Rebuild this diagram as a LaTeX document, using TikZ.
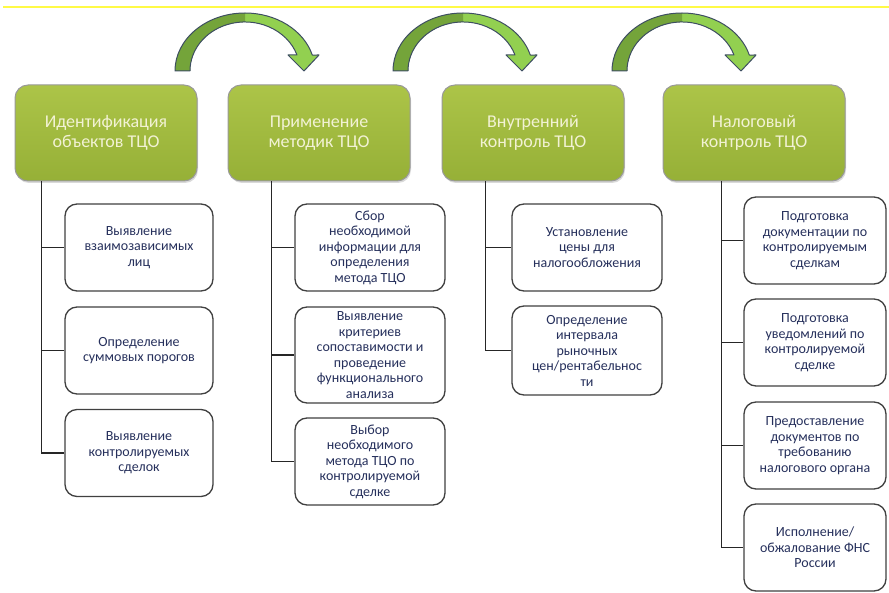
\documentclass[tikz,border=0pt]{standalone}
\usepackage{fontspec}
\setmainfont{Carlito}
\usetikzlibrary{shadows}

\definecolor{hdrgreen}{RGB}{150,176,55}
\definecolor{hdrtop}{RGB}{172,196,72}
\definecolor{hdrtext}{RGB}{242,242,212}
\definecolor{subtext}{RGB}{38,48,92}
\definecolor{arrlight}{RGB}{146,208,80}
\definecolor{arrdark}{RGB}{116,164,58}
\definecolor{arredge}{RGB}{62,78,98}
\definecolor{toprule}{RGB}{255,250,70}

\tikzset{
every picture/.style={
line width=1pt
},
hdr/.style={draw=black!40, rounded corners=13pt, top color=hdrtop, bottom color=hdrgreen,
  minimum width=182pt, minimum height=96pt, align=center, text=hdrtext,
  font=\fontsize{18}{20}\selectfont,
  drop shadow={opacity=0.3, shadow xshift=1pt, shadow yshift=-2pt}},
sub/.style={draw=black!75, line width=1.3pt, fill=white, rounded corners=12pt,
  minimum width=148pt, minimum height=87pt, inner sep=0pt, align=center,
  text=subtext, font=\fontsize{14}{15.5}\selectfont},
link/.style={draw=black!85, line width=1.4pt}
}

\begin{document}
\begin{tikzpicture}[x=1pt,y=-1pt]
  \useasboundingbox (0,0) rectangle (889,593);

  % rule at the top
  \draw [toprule, line width=1.5pt] (3,7) -- (889,7);

  % curved arrows between the stages
  \foreach \dx in {0,218,437} {
    \begin{scope}[xshift=\dx pt]
      \fill [arrlight] (175,71) arc[start angle=180, end angle=344, x radius=70, y radius=58]
        -- (319,55) -- (304,71) -- (288,55) -- (297,55)
        arc[start angle=341, end angle=180, x radius=55, y radius=49] -- cycle;
      \fill [arrdark] (175,71) arc[start angle=180, end angle=270, x radius=70, y radius=58]
        -- (245,22) arc[start angle=270, end angle=180, x radius=55, y radius=49] -- cycle;
      \draw [arredge, line join=round] (175,71) arc[start angle=180, end angle=344, x radius=70, y radius=58]
        -- (319,55) -- (304,71) -- (288,55) -- (297,55)
        arc[start angle=341, end angle=180, x radius=55, y radius=49] -- cycle;
    \end{scope}
  }

  % stages
  \node [hdr] (ident) at (106,133) {Идентификация\\объектов ТЦО};
  \node [hdr] (meth)  at (319,133) {Применение\\методик ТЦО};
  \node [hdr] (intc)  at (533,133) {Внутренний\\контроль ТЦО};
  \node [hdr] (taxc)  at (754,133) {Налоговый\\контроль ТЦО};

  \coordinate (ident t) at ([xshift=27pt]ident.south west);
  \coordinate (meth t)  at ([xshift=44pt]meth.south west);
  \coordinate (intc t)  at ([xshift=44pt]intc.south west);
  \coordinate (taxc t)  at ([xshift=59pt]taxc.south west);

  % identification
  \node [sub] (ident1) at (139,247.5) {Выявление\\взаимозависимых\\лиц};
  \node [sub] (ident2) at (139,350.5) {Определение\\суммовых порогов};
  \node [sub] (ident3) at (139,453)   {Выявление\\контролируемых\\сделок};

  % methods
  \node [sub, minimum width=150pt] (meth1) at (370,247.5) {Сбор\\необходимой\\информации для\\определения\\метода ТЦО};
  \node [sub, minimum width=150pt, minimum height=96pt] (meth2) at (370,355) {Выявление\\критериев\\сопоставимости и\\проведение\\функционального\\анализа};
  \node [sub, minimum width=150pt] (meth3) at (370,461.5) {Выбор\\необходимого\\метода ТЦО по\\контролируемой\\сделке};

  % internal control
  \node [sub, minimum width=150pt] (intc1) at (587,247.5) {Установление\\цены для\\налогообложения};
  \node [sub, minimum width=150pt, minimum height=89pt] (intc2) at (587,350.5) {Определение\\интервала\\рыночных\\цен/рентабельнос\\ти};

  % tax control
  \node [sub, minimum width=142pt] (taxc1) at (815,240.5) {Подготовка\\документации по\\контролируемым\\сделкам};
  \node [sub, minimum width=142pt] (taxc2) at (815,342.5) {Подготовка\\уведомлений по\\контролируемой\\сделке};
  \node [sub, minimum width=142pt] (taxc3) at (815,445.5) {Предоставление\\документов по\\требованию\\налогового органа};
  \node [sub, minimum width=142pt] (taxc4) at (815,547.5) {Исполнение/\\обжалование ФНС\\России};

  % tree lines
  \foreach \i in {1,2,3} \draw [link] (ident t) |- (ident\i.west);
  \foreach \i in {1,2,3} \draw [link] (meth t) |- (meth\i.west);
  \foreach \i in {1,2} \draw [link] (intc t) |- (intc\i.west);
  \foreach \i in {1,...,4} \draw [link] (taxc t) |- (taxc\i.west);

\end{tikzpicture}
\end{document}
